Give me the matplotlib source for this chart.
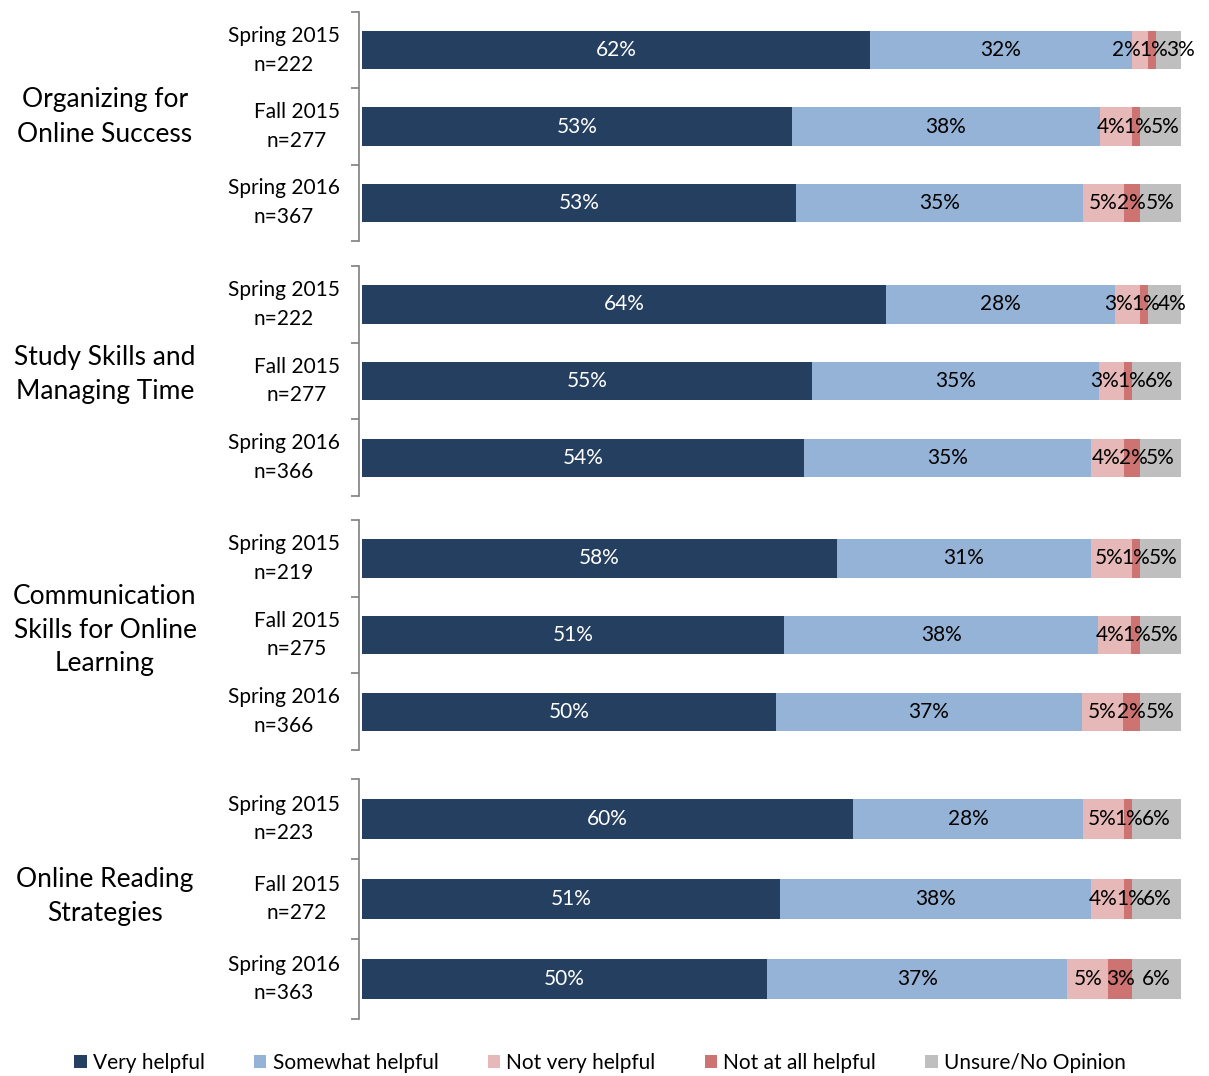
import numpy as np
import matplotlib.pyplot as plt
from matplotlib.transforms import blended_transform_factory

plt.rcParams['font.family'] = ['Lato', 'DejaVu Sans']

# data
groups = ['Organizing for\nOnline Success', 'Study Skills and\nManaging Time',
          'Communication\nSkills for Online\nLearning', 'Online Reading\nStrategies']
terms = ['Spring 2015', 'Fall 2015', 'Spring 2016']
n_sizes = [[222, 277, 367], [222, 277, 366], [219, 275, 366], [223, 272, 363]]
series = ['Very helpful', 'Somewhat helpful', 'Not very helpful', 'Not at all helpful', 'Unsure/No Opinion']
very = [[62, 53, 53], [64, 55, 54], [58, 51, 50], [60, 51, 50]]
somewhat = [[32, 38, 35], [28, 35, 35], [31, 38, 37], [28, 38, 37]]
not_very = [[2, 4, 5], [3, 3, 4], [5, 4, 5], [5, 4, 5]]
not_at_all = [[1, 1, 2], [1, 1, 2], [1, 1, 2], [1, 1, 3]]
unsure = [[3, 5, 5], [4, 6, 5], [5, 5, 5], [6, 6, 6]]

colors = ['#243F60', '#95B3D7', '#E6B9B8', '#CD7371', '#BFBFBF']
txt_colors = ['white', 'black', 'black', 'black', 'black']
FS = 15


def spread(centers, width):
    # push overlapping labels apart, keeping each cluster centred on its mean
    clusters = [[c] for c in centers]
    changed = True
    while changed:
        changed = False
        pos = []
        for cl in clusters:
            m = np.mean(cl)
            k = len(cl)
            pos.append([m + (j - (k - 1) / 2) * width for j in range(k)])
        for i in range(len(clusters) - 1):
            if pos[i][-1] + width > pos[i + 1][0]:
                clusters[i] = clusters[i] + clusters[i + 1]
                del clusters[i + 1]
                changed = True
                break
    flat = []
    for cl in clusters:
        m = np.mean(cl)
        k = len(cl)
        flat += [m + (j - (k - 1) / 2) * width for j in range(k)]
    return flat


W, H = 1209, 1076
fig = plt.figure(figsize=(W / 100, H / 100), dpi=100)

# axes bands in pixels (top, bottom)
bands = [(12, 241), (266, 496), (520, 750), (779, 1019)]
label_y = [117, 374, 630, 896]
x0, x1 = 362, 1181

for g in range(4):
    top, bot = bands[g]
    ax = fig.add_axes([x0 / W, 1 - bot / H, (x1 - x0) / W, (bot - top) / H])
    vals = np.array([very[g], somewhat[g], not_very[g], not_at_all[g], unsure[g]], dtype=float)
    tot = vals.sum(axis=0)
    y = np.arange(3)
    left = np.zeros(3)
    centers = np.zeros((5, 3))
    for s in range(5):
        w = vals[s] / tot * 100
        ax.barh(y, w, left=left, height=0.5, color=colors[s], label=series[s])
        centers[s] = left + w / 2
        left += w
    for i in range(3):
        xs = list(centers[:2, i]) + spread(list(centers[2:, i]), 3.3)
        for s in range(5):
            ax.text(xs[s], y[i], f'{int(vals[s][i])}%', ha='center', va='center',
                    fontsize=FS, color=txt_colors[s])
    ax.set_xlim(0, 100)
    ax.set_ylim(2.5, -0.5)
    # category labels (two lines, centred)
    tr = blended_transform_factory(ax.transAxes, ax.transData)
    ax.set_yticks([])
    for i in range(3):
        ax.text(-22 / (x1 - x0), y[i], f'{terms[i]}\nn={n_sizes[g][i]}', transform=tr,
                ha='right', va='center', multialignment='center', fontsize=FS,
                linespacing=1.55)
    ax.set_yticks([-0.5, 0.5, 1.5, 2.5], minor=True)
    ax.tick_params(axis='y', which='minor', length=6, color='#7F7F7F', width=1.2)
    ax.set_xticks([])
    for sp in ['top', 'right', 'bottom']:
        ax.spines[sp].set_visible(False)
    ax.spines['left'].set_color('#7F7F7F')
    ax.spines['left'].set_linewidth(1.2)
    ax.spines['left'].set_position(('outward', 2))
    fig.text(105 / W, 1 - label_y[g] / H, groups[g], ha='center', va='center',
             fontsize=19, multialignment='center', linespacing=1.45)
    if g == 0:
        handles, labs = ax.get_legend_handles_labels()

fig.legend(handles, labs, loc='center', bbox_to_anchor=(600 / W, 1 - 1063 / H), ncol=5,
           frameon=False, fontsize=FS, handlelength=0.6, handleheight=0.6,
           handletextpad=0.3, columnspacing=2.35)

fig.savefig('out.png', dpi=100)
